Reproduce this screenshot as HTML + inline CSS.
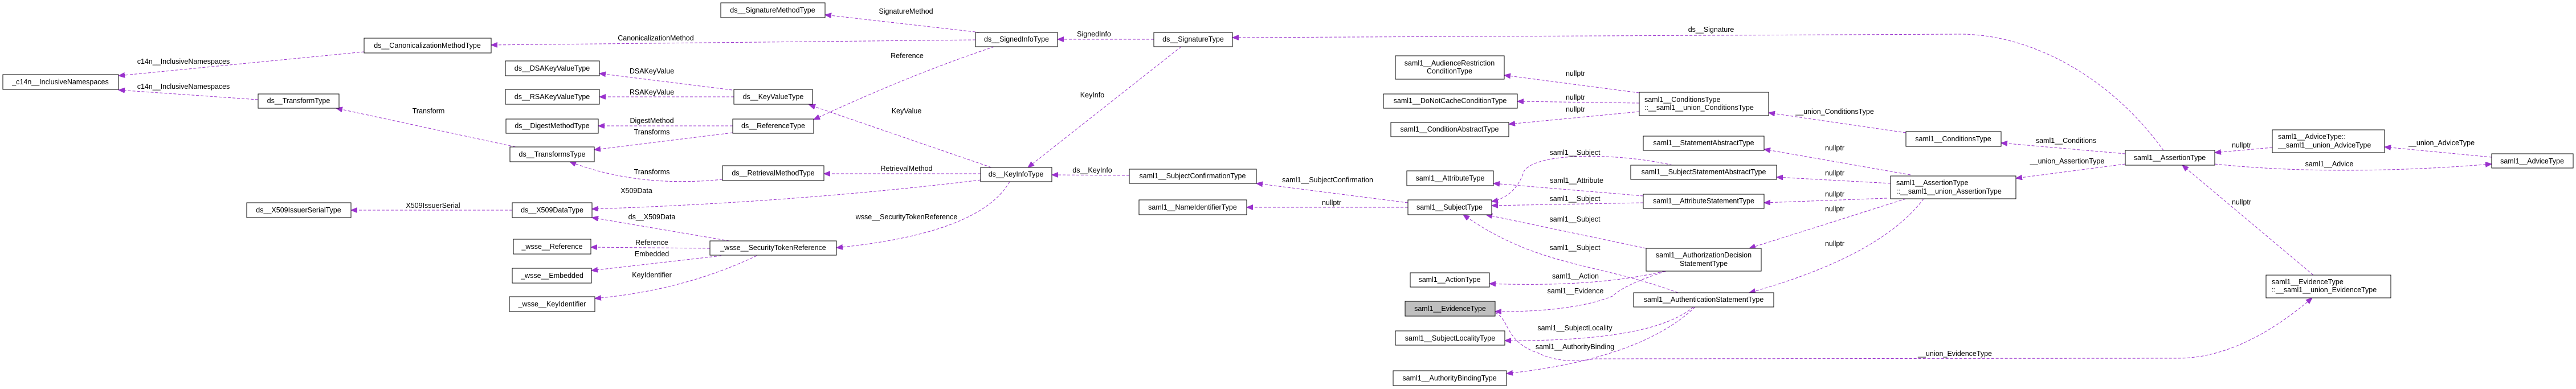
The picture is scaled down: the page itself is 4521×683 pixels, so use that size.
<!DOCTYPE html>
<html><head><meta charset="utf-8"><style>
html,body{margin:0;padding:0;background:#fff;}
svg{display:block;}
text{font-family:"Liberation Sans",Arial,sans-serif;font-size:12.5px;fill:#000;}
.b{fill:#fff;stroke:#000;stroke-width:1;}
.e{fill:none;stroke:#9a32cd;stroke-width:1;stroke-dasharray:5,3;marker-end:url(#a);}
.c{text-anchor:middle;}
</style></head><body>
<svg width="4521" height="683" viewBox="0 0 4521 683" xmlns="http://www.w3.org/2000/svg">
<defs><marker id="a" markerUnits="userSpaceOnUse" markerWidth="12" markerHeight="10" refX="11" refY="4.5" orient="auto"><path d="M0,0 L11,4.5 L0,9 z" fill="#9a32cd" stroke="#9a32cd"/></marker></defs>

<!-- edges -->
<path class="e" d="M1712,70 L862,79"/>
<path class="e" d="M639,91 L208,133"/>
<path class="e" d="M453,175 L208,158"/>
<path class="e" d="M1720,57 L1448,26"/>
<path class="e" d="M905,258 L590,190"/>
<path class="e" d="M1285,158 L1052,129"/>
<path class="e" d="M1288,170 L1052,170"/>
<path class="e" d="M1286,221 L1050,221"/>
<path class="e" d="M1286,233 L1043,263"/>
<path class="e" d="M1268,315 Q1120,330 1000,284"/>
<path class="e" d="M1745,82 Q1600,130 1428,210"/>
<path class="e" d="M1740,294 L1420,184"/>
<path class="e" d="M1721,305 L1446,305"/>
<path class="e" d="M1721,316 Q1400,355 1039,367"/>
<path class="e" d="M899,369 L616,369"/>
<path class="e" d="M1280,423 L1039,382"/>
<path class="e" d="M1246,436 L1037,434"/>
<path class="e" d="M1266,449 L1038,475"/>
<path class="e" d="M1328,449 Q1200,510 1044,524"/>
<path class="e" d="M1772,319 Q1720,410 1468,435"/>
<path class="e" d="M2073,82 L1804,294"/>
<path class="e" d="M2025,69 L1856,69"/>
<path class="e" d="M3797,264 C3700,130 3560,60 3440,60 L2163,66"/>
<path class="e" d="M1982,308 L1846,307"/>
<path class="e" d="M2471,356 L2205,322"/>
<path class="e" d="M2471,364 L2188,364"/>
<path class="e" d="M2877,163 L2640,132"/>
<path class="e" d="M2877,181 L2663,178"/>
<path class="e" d="M2877,196 L2648,218"/>
<path class="e" d="M3345,233 L3104,198"/>
<path class="e" d="M3730,270 L3512,251"/>
<path class="e" d="M3730,288 L3538,313"/>
<path class="e" d="M3353,307 L3096,262"/>
<path class="e" d="M3318,322 L3118,311"/>
<path class="e" d="M3312,348 L3096,356"/>
<path class="e" d="M3345,349 L3070,436"/>
<path class="e" d="M3376,349 Q3300,450 3070,514"/>
<path class="e" d="M2884,344 L2621,322"/>
<path class="e" d="M2884,356 L2618,361"/>
<path class="e" d="M2935,290 C2850,270 2700,265 2675,300 Q2660,345 2618,354"/>
<path class="e" d="M2889,436 L2608,377"/>
<path class="e" d="M2945,514 C2800,460 2700,470 2568,377"/>
<path class="e" d="M2922,476 Q2800,505 2614,498"/>
<path class="e" d="M2924,476 Q2850,500 2830,520 Q2760,548 2624,547"/>
<path class="e" d="M2972,539 Q2900,600 2641,598"/>
<path class="e" d="M2975,539 Q2880,630 2644,656"/>
<path class="e" d="M2624,549 C2650,560 2640,600 2700,620 Q2740,640 2800,630 L3822,629 C3900,629 3980,590 4058,523"/>
<path class="e" d="M4060,483 L3830,290"/>
<path class="e" d="M3988,259 L3887,268"/>
<path class="e" d="M4373,276 L4185,258"/>
<path class="e" d="M3887,288 Q4100,310 4373,288"/>

<!-- edge labels -->
<g class="c">
<text x="322" y="112">c14n__InclusiveNamespaces</text>
<text x="322" y="156">c14n__InclusiveNamespaces</text>
<text x="752" y="199">Transform</text>
<text x="760" y="365">X509IssuerSerial</text>
<text x="1590" y="24">SignatureMethod</text>
<text x="1151" y="71">CanonicalizationMethod</text>
<text x="1592" y="102">Reference</text>
<text x="1144" y="129">DSAKeyValue</text>
<text x="1144" y="166">RSAKeyValue</text>
<text x="1144" y="216">DigestMethod</text>
<text x="1144" y="236">Transforms</text>
<text x="1144" y="306">Transforms</text>
<text x="1591" y="199">KeyValue</text>
<text x="1591" y="300">RetrievalMethod</text>
<text x="1117" y="339">X509Data</text>
<text x="1144" y="385">ds__X509Data</text>
<text x="1591" y="385">wsse__SecurityTokenReference</text>
<text x="1144" y="430">Reference</text>
<text x="1144" y="450">Embedded</text>
<text x="1144" y="487">KeyIdentifier</text>
<text x="1920" y="64">SignedInfo</text>
<text x="1917" y="171">KeyInfo</text>
<text x="1917" y="303">ds__KeyInfo</text>
<text x="2330" y="320">saml1__SubjectConfirmation</text>
<text x="2337" y="360">nullptr</text>
<text x="3003" y="56">ds__Signature</text>
<text x="2765" y="133">nullptr</text>
<text x="2765" y="175">nullptr</text>
<text x="2765" y="196">nullptr</text>
<text x="3220" y="200">__union_ConditionsType</text>
<text x="2764" y="272">saml1__Subject</text>
<text x="2767" y="321">saml1__Attribute</text>
<text x="2764" y="353">saml1__Subject</text>
<text x="2764" y="389">saml1__Subject</text>
<text x="2764" y="439">saml1__Subject</text>
<text x="2765" y="489">saml1__Action</text>
<text x="2765" y="515">saml1__Evidence</text>
<text x="2764" y="580">saml1__SubjectLocality</text>
<text x="2764" y="613">saml1__AuthorityBinding</text>
<text x="3626" y="251">saml1__Conditions</text>
<text x="3628" y="287">__union_AssertionType</text>
<text x="3220" y="264">nullptr</text>
<text x="3220" y="308">nullptr</text>
<text x="3220" y="345">nullptr</text>
<text x="3220" y="371">nullptr</text>
<text x="3220" y="432">nullptr</text>
<text x="3431" y="625">__union_EvidenceType</text>
<text x="3934" y="259">nullptr</text>
<text x="3934" y="359">nullptr</text>
<text x="4285" y="255">__union_AdviceType</text>
<text x="4088" y="292">saml1__Advice</text>
</g>

<!-- nodes -->
<g>
<rect class="b" x="5" y="131" width="203" height="26"/>
<rect class="b" x="639" y="67" width="223" height="26"/>
<rect class="b" x="453" y="165" width="142" height="25"/>
<rect class="b" x="433" y="356" width="183" height="26"/>
<rect class="b" x="1265" y="5" width="183" height="26"/>
<rect class="b" x="887" y="107" width="165" height="26"/>
<rect class="b" x="887" y="157" width="165" height="26"/>
<rect class="b" x="888" y="209" width="162" height="25"/>
<rect class="b" x="895" y="258" width="148" height="26"/>
<rect class="b" x="1288" y="157" width="138" height="26"/>
<rect class="b" x="1286" y="209" width="142" height="25"/>
<rect class="b" x="1268" y="291" width="178" height="26"/>
<rect class="b" x="899" y="356" width="140" height="26"/>
<rect class="b" x="901" y="420" width="136" height="26"/>
<rect class="b" x="899" y="471" width="139" height="26"/>
<rect class="b" x="894" y="521" width="150" height="26"/>
<rect class="b" x="1246" y="423" width="222" height="25"/>
<rect class="b" x="1712" y="57" width="144" height="25"/>
<rect class="b" x="2025" y="57" width="138" height="25"/>
<rect class="b" x="1721" y="294" width="125" height="25"/>
<rect class="b" x="1982" y="297" width="223" height="25"/>
<rect class="b" x="1999" y="351" width="189" height="26"/>
<rect class="b" x="2449" y="98" width="191" height="41"/>
<rect class="b" x="2428" y="165" width="235" height="25"/>
<rect class="b" x="2441" y="215" width="207" height="25"/>
<rect class="b" x="2877" y="162" width="227" height="41"/>
<rect class="b" x="2884" y="239" width="212" height="25"/>
<rect class="b" x="2862" y="290" width="256" height="25"/>
<rect class="b" x="2469" y="300" width="152" height="26"/>
<rect class="b" x="2471" y="351" width="147" height="26"/>
<rect class="b" x="2884" y="341" width="212" height="25"/>
<rect class="b" x="2889" y="436" width="202" height="40"/>
<rect class="b" x="2475" y="479" width="139" height="25"/>
<rect x="2466" y="529" width="158" height="26" fill="#bfbfbf" stroke="#000"/>
<rect class="b" x="2867" y="514" width="246" height="25"/>
<rect class="b" x="2449" y="581" width="192" height="25"/>
<rect class="b" x="2445" y="651" width="199" height="26"/>
<rect class="b" x="3345" y="231" width="167" height="26"/>
<rect class="b" x="3318" y="309" width="220" height="40"/>
<rect class="b" x="3730" y="264" width="157" height="26"/>
<rect class="b" x="3988" y="228" width="197" height="40"/>
<rect class="b" x="4373" y="270" width="143" height="25"/>
<rect class="b" x="3977" y="483" width="219" height="40"/>
</g>
<g class="c">
<text x="106" y="148">_c14n__InclusiveNamespaces</text>
<text x="750" y="84">ds__CanonicalizationMethodType</text>
<text x="524" y="181">ds__TransformType</text>
<text x="524" y="373">ds__X509IssuerSerialType</text>
<text x="1356" y="22">ds__SignatureMethodType</text>
<text x="969" y="124">ds__DSAKeyValueType</text>
<text x="969" y="174">ds__RSAKeyValueType</text>
<text x="969" y="225">ds__DigestMethodType</text>
<text x="969" y="275">ds__TransformsType</text>
<text x="1357" y="174">ds__KeyValueType</text>
<text x="1357" y="225">ds__ReferenceType</text>
<text x="1357" y="308">ds__RetrievalMethodType</text>
<text x="969" y="373">ds__X509DataType</text>
<text x="969" y="437">_wsse__Reference</text>
<text x="969" y="488">_wsse__Embedded</text>
<text x="969" y="538">_wsse__KeyIdentifier</text>
<text x="1357" y="439">_wsse__SecurityTokenReference</text>
<text x="1784" y="73">ds__SignedInfoType</text>
<text x="2094" y="73">ds__SignatureType</text>
<text x="1783" y="310">ds__KeyInfoType</text>
<text x="2093" y="313">saml1__SubjectConfirmationType</text>
<text x="2093" y="368">saml1__NameIdentifierType</text>
<text x="2544" y="115">saml1__AudienceRestriction</text>
<text x="2544" y="129">ConditionType</text>
<text x="2545" y="181">saml1__DoNotCacheConditionType</text>
<text x="2544" y="231">saml1__ConditionAbstractType</text>
<text x="2990" y="255">saml1__StatementAbstractType</text>
<text x="2990" y="306">saml1__SubjectStatementAbstractType</text>
<text x="2545" y="317">saml1__AttributeType</text>
<text x="2544" y="368">saml1__SubjectType</text>
<text x="2990" y="357">saml1__AttributeStatementType</text>
<text x="2990" y="452">saml1__AuthorizationDecision</text>
<text x="2990" y="467">StatementType</text>
<text x="2544" y="495">saml1__ActionType</text>
<text x="2545" y="546">saml1__EvidenceType</text>
<text x="2990" y="530">saml1__AuthenticationStatementType</text>
<text x="2545" y="598">saml1__SubjectLocalityType</text>
<text x="2544" y="668">saml1__AuthorityBindingType</text>
<text x="3428" y="248">saml1__ConditionsType</text>
<text x="3808" y="281">saml1__AssertionType</text>
<text x="4444" y="287">saml1__AdviceType</text>
</g>
<text x="2886" y="179">saml1__ConditionsType</text>
<text x="2886" y="193">::__saml1__union_ConditionsType</text>
<text x="3328" y="325">saml1__AssertionType</text>
<text x="3328" y="340">::__saml1__union_AssertionType</text>
<text x="3998" y="244">saml1__AdviceType::</text>
<text x="3998" y="259">__saml1__union_AdviceType</text>
<text x="3987" y="499">saml1__EvidenceType</text>
<text x="3987" y="513">::__saml1__union_EvidenceType</text>
</svg>
</body></html>
